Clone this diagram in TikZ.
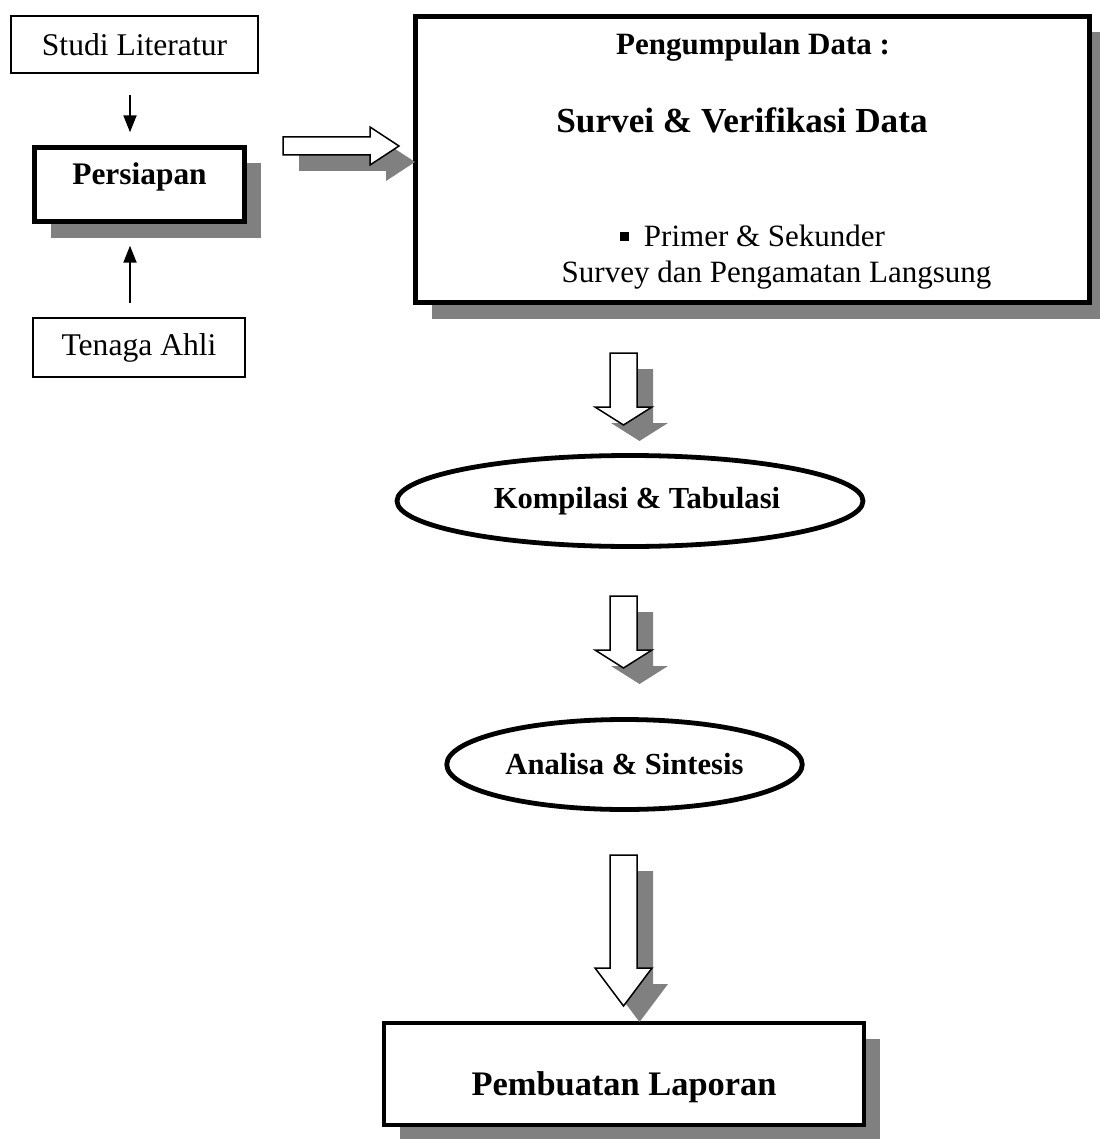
\documentclass[tikz,border=0pt]{standalone}
\usepackage{fontspec}
\setmainfont{Liberation Serif}
\usetikzlibrary{arrows.meta,shapes.geometric,shadows}

\begin{document}
\begin{tikzpicture}
[   x=0.5pt, y=-0.5pt,
    thinbox/.style={draw=black,line width=0.7pt,font=\fontsize{15.8}{18}\selectfont},
    bigbox/.style={draw=black,fill=white,line width=2.2pt,
        drop shadow={shadow xshift=8pt,shadow yshift=-8pt,opacity=1,fill=black!50}},
    oval/.style={ellipse,draw=black,fill=white,line width=2.4pt,font=\bfseries\fontsize{15.3}{18}\selectfont},
    linearrow/.style={line width=1pt,-{Triangle[length=8.5pt,width=6.5pt]}},
    blockarrow/.style={draw=black,fill=white,line width=0.75pt,line join=miter},
    blockshadow/.style={fill=black!50},
]
    \useasboundingbox (0,0) rectangle (1099,1139);

    % left column
    \node[thinbox,minimum width=123.5pt,minimum height=28.5pt] (studi) at (134.5,44.5) {Studi Literatur};
    \node[bigbox,minimum width=105pt,minimum height=37pt,text height=7pt,text depth=7pt,
          font=\bfseries\fontsize{15.7}{18}\selectfont] (persiapan) at (139.5,184.5) {Persiapan};
    \node[thinbox,minimum width=106pt,minimum height=29.5pt] (tenaga) at (139,347.5) {Tenaga Ahli};

    \coordinate (in-1) at (130,95);
    \coordinate (in-2) at (130,303);
    \draw[linearrow,shorten >=6.5pt] (in-1) -- (in-1 |- persiapan.north);
    \draw[linearrow,shorten >=11pt] (in-2) -- (in-2 |- persiapan.south);

    % data collection
    \node[bigbox,minimum width=337pt,minimum height=143pt] (kumpul) at (752.5,159.5) {};
    \node[anchor=base,font=\bfseries\fontsize{15.5}{18}\selectfont] (judul) at (753,55) {Pengumpulan Data :};
    \node[anchor=base,font=\bfseries\fontsize{17.6}{20}\selectfont] (survei) at (742,133) {Survei \& Verifikasi Data};
    \node[anchor=base,font=\fontsize{15.5}{18}\selectfont] (primer) at (752.5,247)
        {\rule[3pt]{4.5pt}{4.5pt}\hspace{7.5pt}Primer \& Sekunder};
    \node[anchor=base,font=\fontsize{15.5}{18}\selectfont] (langsung) at (776.5,282) {Survey dan Pengamatan Langsung};

    % persiapan -> kumpul
    \path[blockshadow,shift={(16,16)}] (283,137) -- (370,137) -- (370,127) -- (399,146)
        -- (370,165) -- (370,155) -- (283,155) -- cycle;
    \path[blockarrow] (283,137) -- (370,137) -- (370,127) -- (399,146)
        -- (370,165) -- (370,155) -- (283,155) -- cycle;

    % processing steps
    \node[oval,minimum width=233pt,minimum height=45.5pt] (kompilasi) at (630,501) {\hspace{7pt}Kompilasi \& Tabulasi};
    \node[oval,minimum width=170pt,minimum height=45pt] (analisa) at (624.5,764.5) {Analisa \& Sintesis};
    \node[bigbox,minimum width=240pt,minimum height=51pt,text height=25pt,text depth=3.5pt,
          font=\bfseries\fontsize{17.2}{20}\selectfont] (laporan) at (624,1074) {Pembuatan Laporan};

    \foreach \t/\b/\p in {353/407/425,596/650/668,855/968/1006}
    {   \path[blockshadow,shift={(16,16)}] (610,\t) -- (637,\t) -- (637,\b) -- (652,\b)
            -- (623.5,\p) -- (595,\b) -- (610,\b) -- cycle;
        \path[blockarrow] (610,\t) -- (637,\t) -- (637,\b) -- (652,\b)
            -- (623.5,\p) -- (595,\b) -- (610,\b) -- cycle;
    }
\end{tikzpicture}
\end{document}
